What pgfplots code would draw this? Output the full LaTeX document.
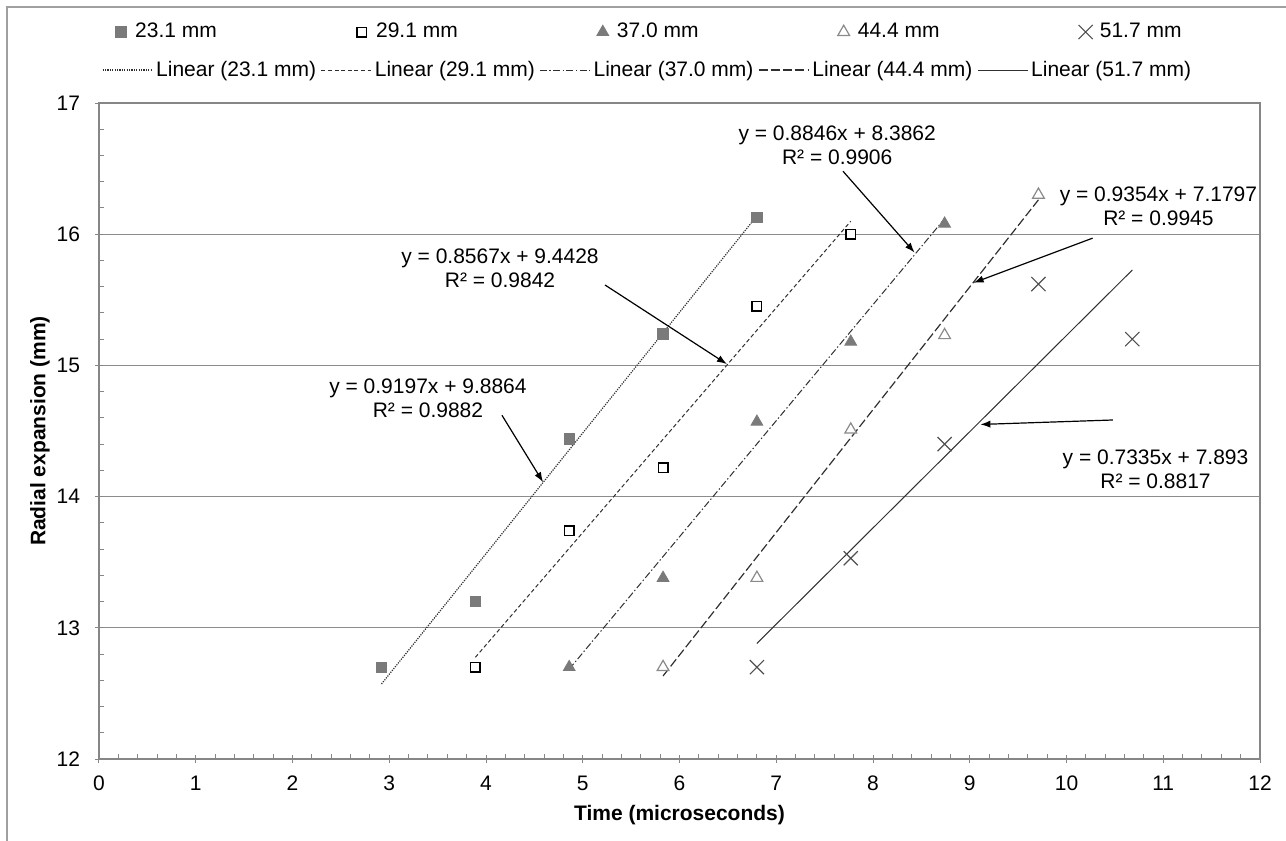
\documentclass[border=0pt]{standalone}
\usepackage{pgfplots}
\pgfplotsset{compat=1.18}
\usepackage{fontspec}
\setmainfont{Liberation Sans}
\usetikzlibrary{arrows.meta}
\definecolor{markgray}{HTML}{7A7A7A}
\definecolor{axgray}{HTML}{868686}
\definecolor{gridgray}{HTML}{8C8C8C}
\definecolor{xgray}{HTML}{505050}
\definecolor{trigray}{HTML}{8A8A8A}
\definecolor{linecol}{HTML}{303030}
\definecolor{framegray}{HTML}{A0A0A0}

\pgfplotsset{
  geom/.style={
    at={(49.5pt,-379.5pt)}, anchor=south west,
    width=580.5pt, height=328pt, scale only axis,
    xmin=0, xmax=12, ymin=12, ymax=17,
  }
}

\begin{document}
\begin{tikzpicture}[font=\fontsize{10.5}{12}\selectfont]
\useasboundingbox (0pt,0pt) rectangle (643pt,-420.5pt);
\draw[draw=framegray, line width=0.8pt] (3.5pt,-425pt) -- (3.5pt,-3.5pt) -- (650pt,-3.5pt);

% ---------- main axis: grid, ticks, trend lines ----------
\begin{axis}[geom,
  xtick={0,1,...,12}, ytick={12,13,...,17},
  minor x tick num=4, minor y tick num=4,
  xtick pos=left, ytick pos=left,
  tick align=center,
  major tick length=4pt, minor tick length=2.5pt,
  minor x tick style={yshift=1.25pt},
  minor y tick style={xshift=1.25pt},
  tick style={draw=axgray, line width=0.5pt},
  axis line style={draw=axgray, line width=0.6pt},
  ymajorgrids, grid style={draw=gridgray, line width=0.6pt},
  /pgf/number format/assume math mode=true,
  xticklabel style={font=\fontsize{10.5}{12}\selectfont, yshift=-3pt},
  yticklabel style={font=\fontsize{10.5}{12}\selectfont, xshift=-4pt},
  xlabel={\bfseries Time (microseconds)},
  ylabel={\bfseries Radial expansion (mm)},
  xlabel style={at={(axis description cs:0.5,-0.0854)}, anchor=center},
  ylabel style={at={(axis description cs:-0.0508,0.5)}, anchor=center},
  legend columns=5,
  legend cell align=left,
  legend image code/.code={\draw[#1] (0pt,0pt) -- (25pt,0pt);},
  legend style={at={(axis description cs:0.0026,1.0503)}, anchor=west,
    draw=none, fill=none, inner sep=0pt, outer sep=0pt,
    nodes={inner sep=1.5pt, anchor=west},
    font=\fontsize{10.5}{12}\selectfont,
    /tikz/every even column/.append style={column sep=0.9pt}},
]
\addplot[linecol, line width=0.6pt, dash pattern=on 0.6pt off 0.6pt] coordinates {(2.92,12.572) (6.80,16.140)};
\addlegendentry{Linear (23.1 mm)}
\addplot[linecol, line width=0.5pt, dash pattern=on 2pt off 1.3pt] coordinates {(3.89,12.775) (7.77,16.099)};
\addlegendentry{Linear (29.1 mm)}
\addplot[linecol, line width=0.5pt, dash pattern=on 3.5pt off 1.2pt on 0.7pt off 1.2pt] coordinates {(4.86,12.685) (8.74,16.118)};
\addlegendentry{Linear (37.0 mm)}
\addplot[linecol, line width=0.6pt, dash pattern=on 4.5pt off 1.6pt] coordinates {(5.83,12.633) (9.71,16.262)};
\addlegendentry{Linear (44.4 mm)}
\addplot[linecol, line width=0.5pt] coordinates {(6.80,12.881) (10.68,15.727)};
\addlegendentry{Linear (51.7 mm)}

% equation labels
\node[align=center] at (axis cs:7.63,16.68) {y = 0.8846x + 8.3862\\R² = 0.9906};
\draw[black, line width=0.6pt, -{Latex[length=5pt,width=3.6pt]}] (axis cs:7.69,16.48) -- (axis cs:8.43,15.86);
\node[align=center] at (axis cs:4.145,15.742) {y = 0.8567x + 9.4428\\R² = 0.9842};
\draw[black, line width=0.6pt, -{Latex[length=5pt,width=3.6pt]}] (axis cs:5.23,15.613) -- (axis cs:6.49,15.01);
\node[align=center] at (axis cs:3.40,14.75) {y = 0.9197x + 9.8864\\R² = 0.9882};
\draw[black, line width=0.6pt, -{Latex[length=5pt,width=3.6pt]}] (axis cs:4.165,14.62) -- (axis cs:4.59,14.11);
\node[align=center] at (axis cs:10.95,16.21) {y = 0.9354x + 7.1797\\R² = 0.9945};
\draw[black, line width=0.6pt, -{Latex[length=5pt,width=3.6pt]}] (axis cs:10.27,15.97) -- (axis cs:9.04,15.63);
\node[align=center] at (axis cs:10.92,14.21) {y = 0.7335x + 7.893\\R² = 0.8817};
\draw[black, line width=0.6pt, -{Latex[length=5pt,width=3.6pt]}] (axis cs:10.48,14.584) -- (axis cs:9.11,14.55);
\end{axis}

% ---------- overlay axis: data markers ----------
\begin{axis}[geom, hide axis,
  legend columns=5,
  legend cell align=left,
  legend image code/.code={\path[draw=none] (0pt,0pt) -- (8.6pt,0pt); \path[#1, draw=none] plot coordinates {(3pt,0pt)};},
  legend style={at={(axis description cs:0.0138,1.1082)}, anchor=west,
    draw=none, fill=none, inner sep=0pt, outer sep=0pt,
    nodes={inner sep=1.5pt, anchor=west},
    font=\fontsize{10.5}{12}\selectfont,
    /tikz/every even column/.append style={column sep=68pt}},
]
\addplot[only marks, mark=square*, mark size=2.6pt, mark options={draw=markgray, fill=markgray}]
  coordinates {(2.92,12.70) (3.89,13.20) (4.86,14.44) (5.83,15.24) (6.80,16.13)};
\addlegendentry{23.1 mm}
\addplot[only marks, mark=square*, mark size=2.4pt, mark options={draw=black, fill=white, line width=0.7pt}]
  coordinates {(3.89,12.70) (4.86,13.74) (5.83,14.22) (6.80,15.45) (7.77,16.00)};
\addlegendentry{29.1 mm}
\addplot[only marks, mark=triangle*, mark size=3.4pt, mark options={draw=markgray, fill=markgray}]
  coordinates {(4.86,12.70) (5.83,13.38) (6.80,14.57) (7.77,15.18) (8.74,16.08)};
\addlegendentry{37.0 mm}
\addplot[only marks, mark=triangle*, mark size=3.4pt, mark options={draw=trigray, fill=white, line width=0.6pt}]
  coordinates {(5.83,12.70) (6.80,13.38) (7.77,14.51) (8.74,15.23) (9.71,16.30)};
\addlegendentry{44.4 mm}
\addplot[only marks, mark=x, mark size=5pt, mark options={draw=xgray, line width=0.55pt}]
  coordinates {(6.80,12.70) (7.77,13.53) (8.74,14.40) (9.71,15.62) (10.68,15.20)};
\addlegendentry{51.7 mm}
\end{axis}
\end{tikzpicture}
\end{document}
